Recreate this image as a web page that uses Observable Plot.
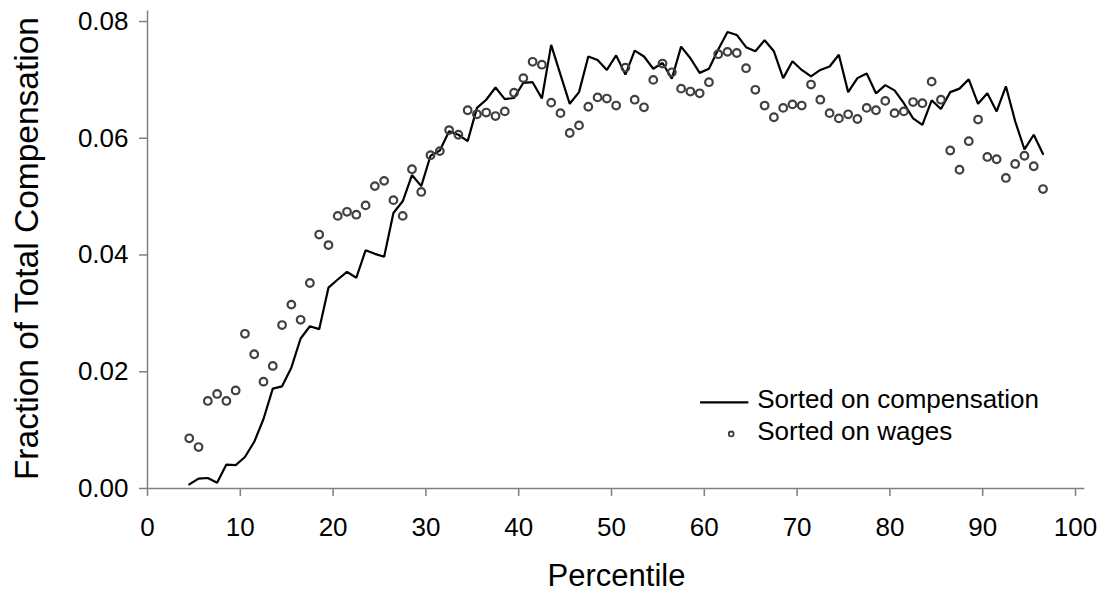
<!DOCTYPE html>
<html>
<head>
<meta charset="utf-8">
<script src="https://cdn.jsdelivr.net/npm/d3@7"></script>
<script src="https://cdn.jsdelivr.net/npm/@observablehq/plot@0.6"></script>
<style>
  html, body { margin: 0; padding: 0; background: #fff; }
  #chart { width: 1109px; height: 595px; }
</style>
</head>
<body>
<div id="chart"></div>
<script>
const percentiles = [4.5,5.5,6.5,7.5,8.5,9.5,10.5,11.5,12.5,13.5,14.5,15.5,16.5,17.5,18.5,19.5,20.5,21.5,22.5,23.5,24.5,25.5,26.5,27.5,28.5,29.5,30.5,31.5,32.5,33.5,34.5,35.5,36.5,37.5,38.5,39.5,40.5,41.5,42.5,43.5,44.5,45.5,46.5,47.5,48.5,49.5,50.5,51.5,52.5,53.5,54.5,55.5,56.5,57.5,58.5,59.5,60.5,61.5,62.5,63.5,64.5,65.5,66.5,67.5,68.5,69.5,70.5,71.5,72.5,73.5,74.5,75.5,76.5,77.5,78.5,79.5,80.5,81.5,82.5,83.5,84.5,85.5,86.5,87.5,88.5,89.5,90.5,91.5,92.5,93.5,94.5,95.5,96.5];

const sortedOnCompensation = [0.0007,0.0017,0.0018,0.0010,0.0041,0.0040,0.0054,0.0080,0.0119,0.0171,0.0175,0.0207,0.0257,0.0278,0.0273,0.0344,0.0358,0.0371,0.0361,0.0408,0.0402,0.0397,0.0472,0.0492,0.0537,0.0518,0.0570,0.0579,0.0612,0.0606,0.0595,0.0652,0.0666,0.0687,0.0667,0.0669,0.0695,0.0696,0.0668,0.0760,0.0709,0.0659,0.0679,0.0740,0.0734,0.0717,0.0742,0.0709,0.0750,0.0740,0.0719,0.0729,0.0702,0.0757,0.0737,0.0712,0.0719,0.0752,0.0782,0.0777,0.0756,0.0749,0.0768,0.0749,0.0703,0.0732,0.0717,0.0706,0.0717,0.0723,0.0743,0.0679,0.0703,0.0711,0.0677,0.0691,0.0682,0.0660,0.0634,0.0623,0.0665,0.0650,0.0679,0.0685,0.0701,0.0659,0.0677,0.0646,0.0689,0.0629,0.0581,0.0606,0.0573];

const sortedOnWages = [0.0086,0.0071,0.0150,0.0162,0.0150,0.0168,0.0265,0.0230,0.0183,0.0210,0.0280,0.0315,0.0289,0.0352,0.0435,0.0417,0.0467,0.0474,0.0469,0.0485,0.0518,0.0527,0.0494,0.0467,0.0547,0.0508,0.0571,0.0578,0.0614,0.0606,0.0648,0.0641,0.0644,0.0638,0.0646,0.0678,0.0703,0.0731,0.0726,0.0661,0.0643,0.0609,0.0622,0.0654,0.0670,0.0668,0.0656,0.0721,0.0666,0.0653,0.0700,0.0728,0.0713,0.0685,0.0680,0.0677,0.0696,0.0744,0.0748,0.0746,0.0720,0.0683,0.0656,0.0636,0.0652,0.0658,0.0656,0.0692,0.0666,0.0643,0.0634,0.0641,0.0633,0.0652,0.0648,0.0664,0.0643,0.0646,0.0662,0.0660,0.0697,0.0666,0.0579,0.0546,0.0595,0.0632,0.0568,0.0564,0.0532,0.0556,0.0570,0.0552,0.0513];

const xTicks = [0,10,20,30,40,50,60,70,80,90,100];
const yTicks = [0,0.02,0.04,0.06,0.08];
const seriesLabels = ["Sorted on compensation", "Sorted on wages"];
const xTitle = "Percentile";
const yTitle = "Fraction of Total Compensation";

const compData = percentiles.map((p, i) => ({x: p, y: sortedOnCompensation[i]}));
const wageData = percentiles.map((p, i) => ({x: p, y: sortedOnWages[i]}));

// legend anchor (data coordinates inside the empty lower right area)
const legendLine = [{x1: 59.6, x2: 64.8, y: 0.01475}];
const legendDot = [{x: 62.9, y: 0.00935}];
const legendText = [{x: 65.7, y: 0.0153, t: seriesLabels[0]}, {x: 65.7, y: 0.0098, t: seriesLabels[1]}];
// y-axis title anchor (left of the frame)
const yTitlePos = [{x: -13.0, y: 0.0411, t: yTitle}];

const axisColor = "#808080";

const chart = Plot.plot({
  width: 1109,
  height: 595,
  marginLeft: 147,
  marginRight: 34,
  marginTop: 21,
  marginBottom: 107,
  style: {fontFamily: "'Liberation Sans', Arial, sans-serif", background: "white", overflow: "visible"},
  x: {domain: [0, 100]},
  y: {domain: [0, 0.08]},
  marks: [
    // axis lines
    Plot.ruleX([0], {y1: 0, y2: 0.0818, stroke: axisColor, strokeWidth: 1.5}),
    Plot.ruleY([0], {x1: 0, x2: 101, stroke: axisColor, strokeWidth: 1.5}),
    Plot.axisX({ticks: xTicks, tickSize: 8, tickPadding: 21, fontSize: 26, stroke: axisColor, strokeWidth: 1.5, fill: "black", label: null, tickFormat: d3.format("d")}),
    Plot.axisY({ticks: yTicks, tickSize: 8, tickPadding: 11, fontSize: 26, stroke: axisColor, strokeWidth: 1.5, fill: "black", label: null, tickFormat: d3.format(".2f")}),
    Plot.text([xTitle], {frameAnchor: "bottom", dy: 88, dx: 5, fontSize: 31, fill: "black", lineAnchor: "middle"}),
    Plot.text(yTitlePos, {x: "x", y: "y", text: "t", rotate: -90, fontSize: 33.5, fill: "black", lineAnchor: "middle"}),
    // data
    Plot.line(compData, {x: "x", y: "y", stroke: "black", strokeWidth: 2.2, strokeLinejoin: "miter"}),
    Plot.dot(wageData, {x: "x", y: "y", r: 3.8, stroke: "#404040", strokeWidth: 2.2, fill: "none"}),
    // legend
    Plot.ruleY(legendLine, {x1: "x1", x2: "x2", y: "y", stroke: "black", strokeWidth: 2.2}),
    Plot.dot(legendDot, {x: "x", y: "y", r: 2.4, stroke: "#404040", strokeWidth: 1.8, fill: "none"}),
    Plot.text(legendText, {x: "x", y: "y", text: "t", textAnchor: "start", fontSize: 26, fill: "black", lineAnchor: "middle"})
  ]
});
document.getElementById("chart").appendChild(chart);
</script>
</body>
</html>
